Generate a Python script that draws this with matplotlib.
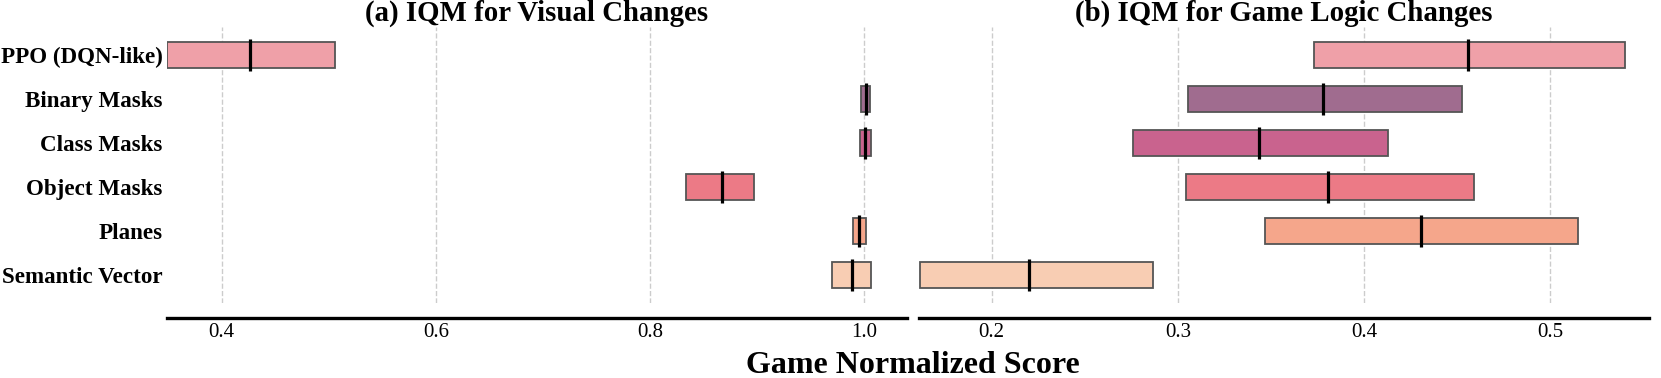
import numpy as np
import matplotlib
matplotlib.use("Agg")
import matplotlib.pyplot as plt

plt.rcParams['font.family'] = ['Liberation Serif', 'DejaVu Serif']

methods = ["PPO (DQN-like)", "Binary Masks", "Class Masks", "Object Masks",
           "Planes", "Semantic Vector"]
colors = ["#efa0a8", "#a06c8f", "#c9638e", "#ec7a86", "#f5a68b", "#f8cdb3"]

# (a) visual changes: lower CI, IQM, upper CI
vis_low = [0.349, 0.9975, 0.996, 0.834, 0.9894, 0.9697]
vis_mid = [0.4264, 1.002, 1.0006, 0.867, 0.9958, 0.989]
vis_high = [0.5056, 1.006, 1.0066, 0.897, 1.0019, 1.0068]

# (b) game logic changes
log_low = [0.3733, 0.3053, 0.2759, 0.3045, 0.3467, 0.1617]
log_mid = [0.4559, 0.3779, 0.3433, 0.3804, 0.4307, 0.2203]
log_high = [0.5399, 0.4528, 0.4131, 0.4588, 0.5146, 0.2865]

vis_ticks = [0.4, 0.6, 0.8, 1.0]
log_ticks = [0.2, 0.3, 0.4, 0.5]

fig = plt.figure(figsize=(16.61, 3.78), dpi=100)
ax1 = fig.add_axes([0.1004, 0.1984, 0.4455, 0.7302])
ax2 = fig.add_axes([0.5535, 0.1984, 0.4393, 0.7302])


def draw(ax, low, mid, high, ticks, xlim, title, labels):
    y = np.arange(len(methods))
    low = np.array(low)
    high = np.array(high)
    for t in ticks:
        ax.axvline(t, color='#cccccc', lw=1, ls='--', zorder=0)
    ax.barh(y, high - low, left=low, height=0.6, color=colors,
            edgecolor='#555555', linewidth=1.3, zorder=2)
    ax.vlines(mid, y - 0.37, y + 0.37, color='black', lw=2.3, zorder=3)
    ax.set_xlim(*xlim)
    ax.set_ylim(5.636, -0.636)
    ax.set_xticks(ticks)
    ax.set_xticklabels([f"{t:.1f}" for t in ticks])
    ax.tick_params(axis='x', labelsize=15, length=0, pad=4)
    ax.set_yticks(y)
    if labels:
        ax.set_yticklabels(methods, fontweight='bold')
    else:
        ax.set_yticklabels([])
    ax.tick_params(axis='y', labelsize=16.6, length=0, pad=3)
    for s in ['top', 'right', 'left']:
        ax.spines[s].set_visible(False)
    ax.spines['bottom'].set_position(('outward', 10.6))
    ax.spines['bottom'].set_linewidth(2.4)
    ax.set_title(title, fontsize=20.8, fontweight='bold', pad=4.5)


draw(ax1, vis_low, vis_mid, vis_high, vis_ticks, (0.3486, 1.040),
     "(a) IQM for Visual Changes", True)
draw(ax2, log_low, log_mid, log_high, log_ticks, (0.1612, 0.553),
     "(b) IQM for Game Logic Changes", False)

fig.text(0.5497, 5 / 378, "Game Normalized Score", ha='center',
         va='baseline', fontsize=23, fontweight='bold')

fig.savefig("out.png", dpi=100)
